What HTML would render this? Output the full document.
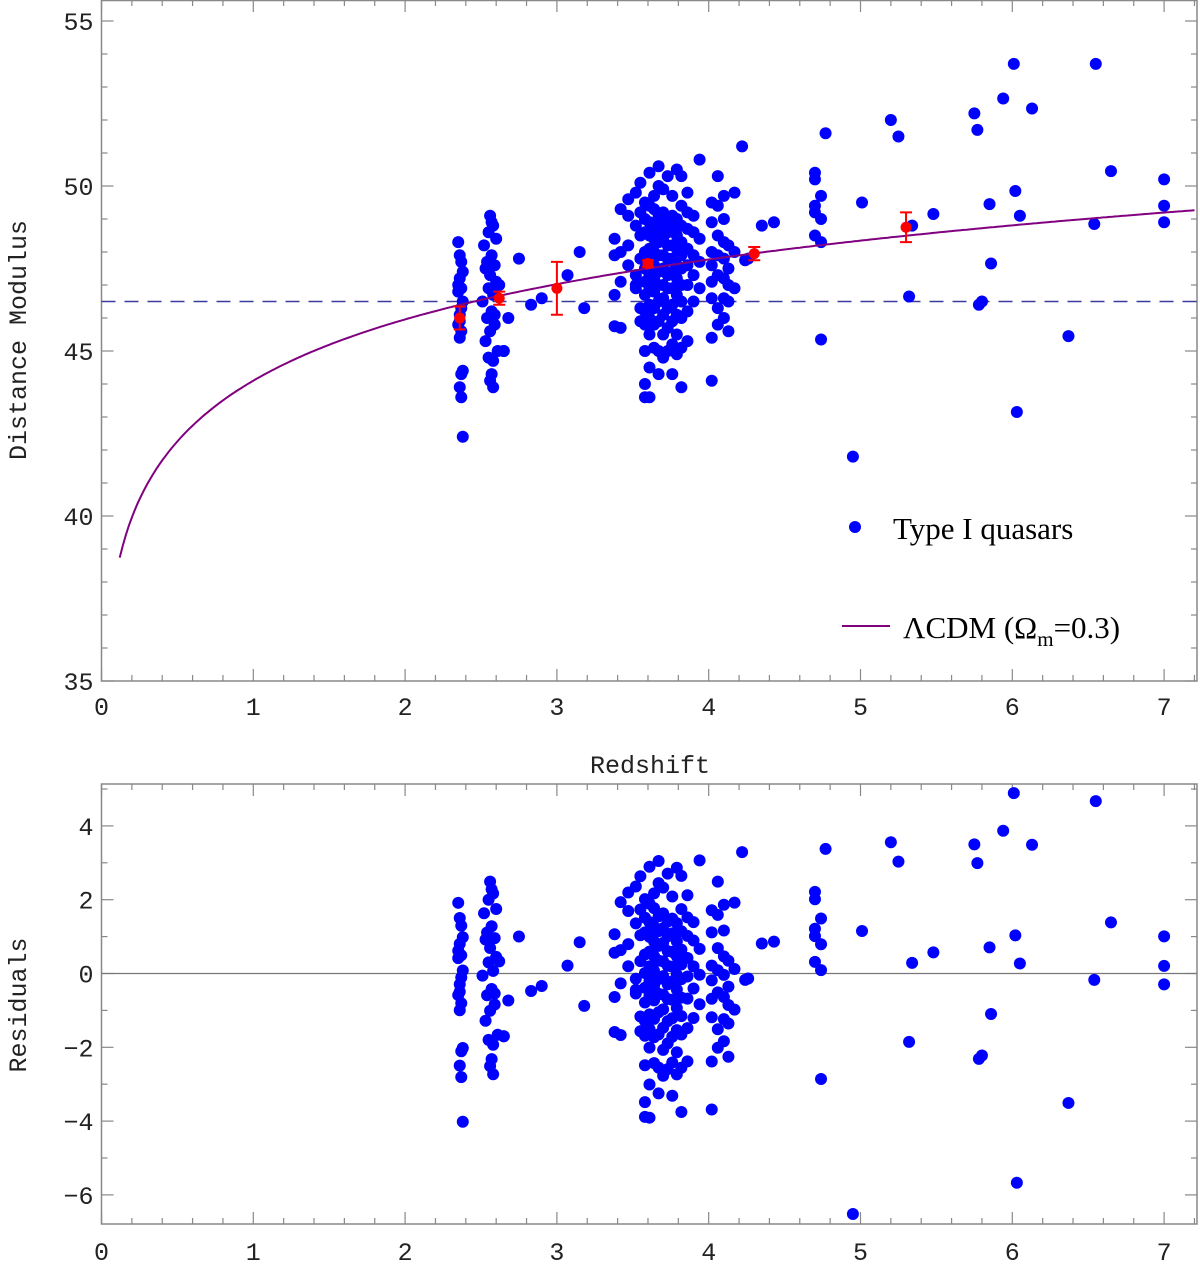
<!DOCTYPE html>
<html><head><meta charset="utf-8"><style>
html,body{margin:0;padding:0;background:#fff}
svg{display:block}
.tk{font-family:"Liberation Mono",monospace;font-size:25px;fill:#222}
.lg{font-family:"Liberation Serif",serif;font-size:31px;fill:#000}
</style></head><body>
<svg id="chart" width="1200" height="1271" viewBox="0 0 1200 1271" xmlns="http://www.w3.org/2000/svg">
<g id="g"></g>
</svg>
<script>
const redshifts=[2.35,2.36,2.37,2.38,2.36,2.37,2.35,2.38,2.37,2.36,2.35,2.37,2.36,2.38,2.37,2.36,2.37,2.38,2.36,2.35,
2.56,2.58,2.55,2.6,2.52,2.57,2.54,2.59,2.53,2.56,2.6,2.55,2.58,2.51,2.57,2.54,2.59,2.56,2.53,2.61,2.55,2.58,2.57,2.56,2.58,2.65,2.62,2.59,2.57,
2.75,2.68,2.65,2.83,2.9,3.07,3.15,3.18,
3.38,3.38,3.38,3.38,3.42,3.42,3.42,3.42,3.47,3.47,3.47,3.47,3.52,3.52,3.52,3.52,3.52,3.55,3.55,3.55,3.55,3.55,3.55,
3.58,3.58,3.58,3.58,3.58,3.58,3.58,3.58,3.58,3.58,3.58,3.58,
3.61,3.61,3.61,3.61,3.61,3.61,3.61,3.61,3.61,3.61,3.61,3.61,3.61,
3.64,3.64,3.64,3.64,3.64,3.64,3.64,3.64,3.64,3.64,3.64,
3.67,3.67,3.67,3.67,3.67,3.67,3.67,3.67,3.67,3.67,3.67,3.67,
3.70,3.70,3.70,3.70,3.70,3.70,3.70,3.70,3.70,3.70,3.70,
3.73,3.73,3.73,3.73,3.73,3.73,3.73,3.73,3.73,3.73,
3.76,3.76,3.76,3.76,3.76,3.76,3.76,3.76,3.76,3.76,3.76,
3.79,3.79,3.79,3.79,3.79,3.79,3.79,3.79,3.79,3.79,
3.82,3.82,3.82,3.82,3.82,3.82,3.82,3.82,3.82,3.82,3.82,
3.86,3.86,3.86,3.86,3.86,3.86,3.86,3.86,
3.9,3.9,3.9,3.9,3.9,3.94,3.94,3.94,3.94,
4.02,4.02,4.02,4.02,4.02,4.02,4.02,4.02,
4.06,4.06,4.06,4.06,4.06,4.06,4.06,
4.1,4.1,4.1,4.1,4.1,4.1,4.1,
4.13,4.13,4.13,4.13,4.13,4.17,4.17,4.17,4.24,4.26,
4.22,4.43,4.35,4.7,4.7,4.7,4.7,4.7,4.74,4.74,4.74,4.74,4.77,4.95,5.01,5.2,5.25,5.32,5.34,5.48,5.75,5.77,5.78,5.8,5.85,5.86,5.94,6.01,6.02,6.03,6.05,6.13,6.37,6.54,6.55,6.65,7.0,7.0,7.0];
const distMod=[48.3,47.9,47.7,47.4,47.2,46.9,46.8,46.5,46.3,46.1,45.8,45.6,45.4,44.4,44.3,43.9,43.6,42.4,45.9,47.0,
49.1,48.8,48.6,48.4,48.2,47.9,47.7,47.6,47.5,47.3,47.1,46.9,46.7,46.5,46.2,46.0,45.8,45.6,45.3,45.0,44.8,44.7,44.3,44.1,43.9,45.0,47.0,46.1,48.9,
47.8,46.0,45.0,46.4,46.6,47.3,48.0,46.3,
45.75,46.7,47.9,48.4,45.7,47.1,48.0,49.3,47.6,48.2,49.1,49.6,46.9,47.3,48.8,49.8,47.0,46.3,47.8,48.5,49.2,50.1,45.9,
44.0,45.0,45.8,46.2,46.7,47.1,47.5,48.0,48.6,49.0,49.5,43.6,
43.6,44.5,45.5,46.0,46.4,46.9,47.3,47.7,48.1,48.5,48.9,49.4,50.4,
45.1,45.8,46.3,46.8,47.2,47.6,48.0,48.4,48.8,49.3,49.7,
44.3,45.0,45.9,46.5,47.0,47.4,47.9,48.3,48.7,49.1,50.6,50.0,
44.8,45.5,46.1,46.6,47.0,47.5,47.9,48.4,48.8,49.2,49.9,
45.0,45.7,46.3,46.9,47.3,47.8,48.2,48.6,49.0,50.3,
44.3,45.2,45.9,46.4,46.9,47.4,47.8,48.2,48.7,49.1,49.7,
44.9,45.5,46.1,46.7,47.2,47.6,48.1,48.5,49.0,50.5,
43.9,45.1,46.0,46.5,47.0,47.5,47.9,48.3,48.8,49.4,50.3,
45.3,46.2,47.0,47.6,48.1,48.7,49.2,49.8,
46.5,47.3,47.9,48.6,49.1,46.9,47.7,48.4,50.8,
44.1,45.4,46.6,47.1,47.6,48.0,48.9,49.5,
45.8,46.3,47.3,47.9,48.5,49.4,50.3,
46.0,46.6,47.2,47.8,48.3,49.0,49.7,
45.6,46.5,47.0,47.5,48.2,48.0,49.8,46.9,47.75,47.8,
51.2,48.9,48.8,50.4,50.2,49.4,49.2,48.5,48.3,45.35,49.7,49.0,51.6,41.8,49.5,52.0,51.5,46.65,48.8,49.15,52.2,51.7,46.4,46.5,49.45,47.65,52.65,53.7,49.85,43.15,49.1,52.35,45.45,48.85,53.7,50.45,50.2,49.4,48.9];
const binZ=[2.36,2.62,3.0,3.6,4.3,5.3];
const binMu=[46.0,46.6,46.9,47.65,47.95,48.75];
const binErr=[0.35,0.2,0.8,0.1,0.2,0.45];
const xTicks=[0,1,2,3,4,5,6,7];
const yTicksTop=[35,40,45,50,55];
const yTicksBot=[-6,-4,-2,0,2,4];
const flatMu=46.5;

const NS="http://www.w3.org/2000/svg",G=document.getElementById('g');
function el(t,a,txt){const e=document.createElementNS(NS,t);for(const k in a)e.setAttribute(k,a[k]);if(txt!==undefined)e.textContent=txt;G.appendChild(e);return e;}
const L=101.5,R=1197;
const X=z=>L+z*151.8;
const Yt=m=>681-(m-35)*33;
const Yb=r=>973.5-r*36.9;
function model(z){const n=200,h=z/n;let s=0;for(let i=0;i<=n;i++){const zz=i*h;const f=1/Math.sqrt(0.3*Math.pow(1+zz,3)+0.7);s+=f*(i==0||i==n?1:(i%2?4:2));}
const dc=299792.458/70*s*h/3;return 5*Math.log10((1+z)*dc)+25;}

let e=el('rect',{x:L,y:0.5,width:R-L,height:680.5,fill:'none',stroke:'#888','stroke-width':1.5});

e=el('rect',{x:L,y:784,width:R-L,height:440,fill:'none',stroke:'#888','stroke-width':1.5});

for(let i=0;i<=36;i++){const z=i*0.2,x=X(z);if(x>R)break;const maj=i%5==0;const len=maj?12:6;
el('line',{x1:x,x2:x,y1:681,y2:681-len,stroke:'#888','stroke-width':1.2});
el('line',{x1:x,x2:x,y1:0,y2:len,stroke:'#888','stroke-width':1.2});
el('line',{x1:x,x2:x,y1:1224,y2:1224-len,stroke:'#888','stroke-width':1.2});
el('line',{x1:x,x2:x,y1:784,y2:784+len,stroke:'#888','stroke-width':1.2});}
xTicks.forEach(t=>{let a=el('text',{x:X(t),y:715,class:'tk','text-anchor':'middle'},t);
a=el('text',{x:X(t),y:1260,class:'tk','text-anchor':'middle'},t);});
for(let m=35;m<=55.6;m++){const y=Yt(m),len=m%5==0?12:6;el('line',{x1:L,x2:L+len,y1:y,y2:y,stroke:'#888','stroke-width':1.2});el('line',{x1:R,x2:R-len,y1:y,y2:y,stroke:'#888','stroke-width':1.2});}
yTicksTop.forEach(t=>{const a=el('text',{x:L-8,y:Yt(t)+9,class:'tk','text-anchor':'end'},t);});
for(let r=-6;r<=5;r++){const y=Yb(r);if(y<784||y>1224)continue;const len=r%2==0?12:6;el('line',{x1:L,x2:L+len,y1:y,y2:y,stroke:'#888','stroke-width':1.2});el('line',{x1:R,x2:R-len,y1:y,y2:y,stroke:'#888','stroke-width':1.2});}
yTicksBot.forEach(t=>{const a=el('text',{x:L-8,y:Yb(t)+9,class:'tk','text-anchor':'end'},t<0?'\u2212'+(-t):t);});
e=el('text',{x:0,y:0,class:'tk','text-anchor':'middle',transform:'translate(26,340) rotate(-90)'},'Distance Modulus');
e=el('text',{x:0,y:0,class:'tk','text-anchor':'middle',transform:'translate(26,1005) rotate(-90)'},'Residuals');
e=el('text',{x:650,y:773,class:'tk','text-anchor':'middle'},'Redshift');
e=el('line',{x1:L,x2:R,y1:Yt(flatMu),y2:Yt(flatMu),stroke:'#3a3aa0','stroke-width':1.5,'stroke-dasharray':'14,9'});

e=el('line',{x1:L,x2:R,y1:Yb(0),y2:Yb(0),stroke:'#777','stroke-width':1.3});

redshifts.forEach((z,i)=>{let c=el('circle',{cx:X(z),cy:Yt(distMod[i]),r:6,fill:'#0000ff'});
const res=distMod[i]-model(z);c=el('circle',{cx:X(z),cy:Yb(res),r:6,fill:'#0000ff'});});
let d='';for(let z=0.12;z<=7.21;z+=0.02){d+=(d?'L':'M')+X(z).toFixed(1)+','+Yt(model(z)).toFixed(1);}
e=el('path',{d:d,fill:'none',stroke:'#800080','stroke-width':2});
binZ.forEach((z,i)=>{const x=X(z),y1=Yt(binMu[i]+binErr[i]),y2=Yt(binMu[i]-binErr[i]);
let b=el('path',{d:`M${x},${y1}V${y2}M${x-6},${y1}H${x+6}M${x-6},${y2}H${x+6}`,stroke:'#ff0000','stroke-width':2,fill:'none'});
b=el('circle',{cx:x,cy:Yt(binMu[i]),r:5.5,fill:'#ff0000'});});
e=el('circle',{cx:855,cy:527,r:6,fill:'#0000ff'});
e=el('text',{x:893,y:539,class:'lg'},'Type I quasars');
e=el('line',{x1:842,x2:890,y1:626,y2:626,stroke:'#800080','stroke-width':2});
e=el('text',{x:903,y:638,class:'lg'});
e.innerHTML='\u039BCDM (\u03A9<tspan dy="8" font-size="21">m</tspan><tspan dy="-8">=0.3)</tspan>';
</script>
</body></html>
